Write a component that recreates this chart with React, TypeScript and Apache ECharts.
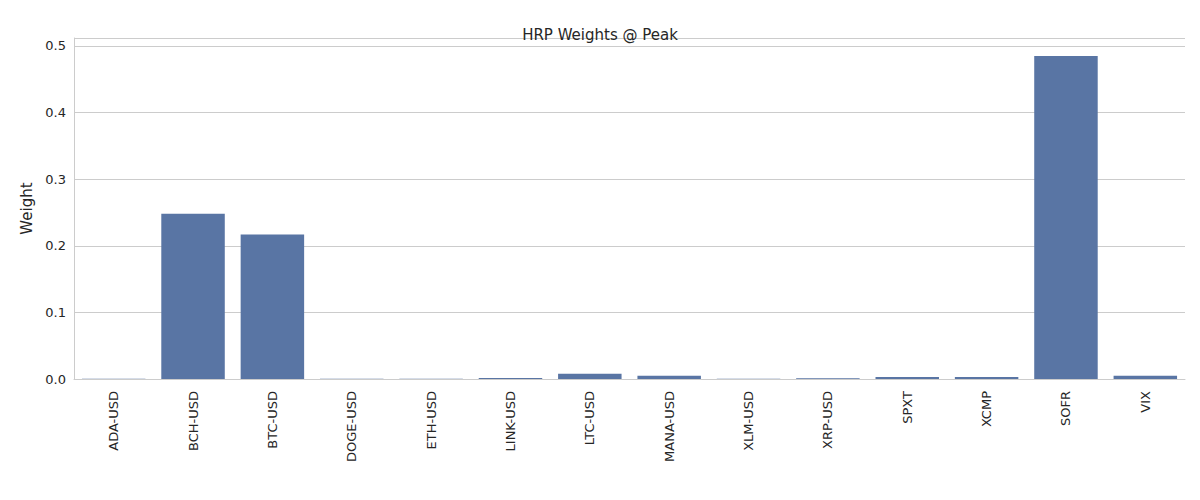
import { useEffect, useRef } from "react";
import * as echarts from "echarts";

const categories = ["ADA-USD", "BCH-USD", "BTC-USD", "DOGE-USD", "ETH-USD", "LINK-USD", "LTC-USD", "MANA-USD", "XLM-USD", "XRP-USD", "SPXT", "XCMP", "SOFR", "VIX"];
const weights = [0.0003, 0.248, 0.217, 0.0002, 0.0003, 0.0015, 0.008, 0.005, 0.0002, 0.001, 0.003, 0.003, 0.485, 0.005];

export default function App() {
  const ref = useRef<HTMLDivElement>(null);
  useEffect(() => {
    if (!ref.current) return;
    const chart = echarts.init(ref.current, null, { renderer: "svg" });
    const font = "DejaVu Sans";
    chart.setOption({
      animation: false,
      textStyle: { fontFamily: font },
      title: {
        text: "HRP Weights @ Peak",
        left: "center",
        top: 14,
        textStyle: { fontSize: 15, fontWeight: "normal", color: "#262626", fontFamily: font },
      },
      grid: { left: 66, right: 7, top: 30, bottom: 113 },
      xAxis: {
        type: "category",
        data: categories,
        axisLine: { lineStyle: { color: "#cccccc" } },
        axisTick: { show: false },
        axisLabel: { rotate: 90, color: "#262626", fontSize: 13, margin: 12 },
        splitLine: { show: false },
      },
      yAxis: {
        type: "value",
        name: "Weight",
        nameLocation: "middle",
        nameGap: 40,
        nameTextStyle: { color: "#262626", fontSize: 15 },
        min: 0,
        max: 0.512,
        interval: 0.1,
        axisLine: { show: true, lineStyle: { color: "#cccccc" } },
        axisTick: { show: false },
        axisLabel: { color: "#262626", fontSize: 13, formatter: (v: number) => v.toFixed(1) },
        splitLine: { lineStyle: { color: "#cccccc" } },
      },
      series: [
        {
          type: "bar",
          data: weights,
          barCategoryGap: "20%",
          itemStyle: { color: "#5975a4" },
        },
      ],
    });
    return () => chart.dispose();
  }, []);
  return <div ref={ref} style={{ width: 1184, height: 484, border: "1px solid #cccccc", boxSizing: "border-box", borderWidth: 0 }} />;
}
